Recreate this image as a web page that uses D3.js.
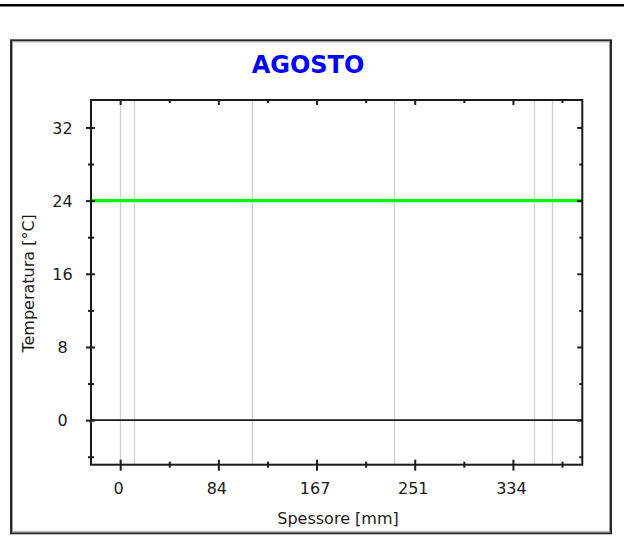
<!DOCTYPE html>
<html>
<head>
<meta charset="utf-8">
<script src="https://cdn.jsdelivr.net/npm/d3@7"></script>
<style>
  html, body { margin: 0; padding: 0; background: #fff; }
  svg { display: block; }
</style>
</head>
<body>
<svg id="chart" width="624" height="540"></svg>
<script>
// Chart text
const title = "AGOSTO";
const xLabel = "Spessore [mm]";
const yLabel = "Temperatura [°C]";

// Axis ticks
const xTickValues = [0, 83.5, 167, 250.5, 334];
const xTickLabels = ["0", "84", "167", "251", "334"];
const xMinorTicks = [41.75, 125.25, 208.75, 292.25, 375.75];
const yTickValues = [0, 8, 16, 24, 32];
const yTickLabels = ["0", "8", "16", "24", "32"];
const yMinorTicks = [-4, 4, 12, 20, 28];

// Axis extents
const xDomain = [-24.8, 393];
const yDomain = [-4.87, 35];

// Wall layer boundaries (mm)
const layerBounds = [0, 12, 112, 233, 352, 367];

// Temperature profile through the wall (mm, °C)
const profileX = [-24.8, 0, 12, 112, 233, 352, 367, 393];
const profileT = [24, 24, 24, 24, 24, 24, 24, 24];

const svg = d3.select("#chart");
const FONT = "'DejaVu Sans', Verdana, sans-serif";
const INK = "#1a1a1a";

// plot box
const P = { left: 91, right: 582.3, top: 100, bottom: 464.7 };

const x = d3.scaleLinear().domain(xDomain).range([P.left, P.right]);
const y = d3.scaleLinear().domain(yDomain).range([P.bottom, P.top]);

// separator rule across the top of the page
svg.append("line")
  .attr("x1", 0).attr("x2", 624).attr("y1", 5.2).attr("y2", 5.2)
  .attr("stroke", "#000").attr("stroke-width", 2.5);

// outer frame with a sunken edge
svg.append("rect")
  .attr("x", 11).attr("y", 40.3).attr("width", 600).attr("height", 493)
  .attr("fill", "#fff").attr("stroke", "#2a2a2a").attr("stroke-width", 2);
svg.append("rect")
  .attr("x", 12.5).attr("y", 41.8).attr("width", 597).attr("height", 490)
  .attr("fill", "none").attr("stroke", "#9a9a9a").attr("stroke-width", 1);

// title
svg.append("text")
  .attr("x", 308).attr("y", 72.5)
  .attr("text-anchor", "middle")
  .attr("font-family", FONT).attr("font-weight", "bold").attr("font-size", 24)
  .attr("fill", "#0000ff")
  .text(title);

const plot = svg.append("g");

// layer boundaries
plot.selectAll("line.layer")
  .data(layerBounds)
  .join("line")
  .attr("class", "layer")
  .attr("x1", d => Math.round(x(d)) + 0.5).attr("x2", d => Math.round(x(d)) + 0.5)
  .attr("y1", P.top).attr("y2", P.bottom)
  .attr("stroke", "#d0d0d0").attr("stroke-width", 1.3);

// zero reference
plot.append("line")
  .attr("x1", P.left).attr("x2", P.right)
  .attr("y1", y(0)).attr("y2", y(0))
  .attr("stroke", INK).attr("stroke-width", 1.7);

// temperature profile
const line = d3.line().x((d, i) => x(profileX[i])).y(d => y(d));
plot.append("path")
  .datum(profileT)
  .attr("d", line)
  .attr("fill", "none")
  .attr("stroke", "#00f500")
  .attr("stroke-width", 3.3);

// frame of the plot
svg.append("rect")
  .attr("x", P.left).attr("y", P.top)
  .attr("width", P.right - P.left).attr("height", P.bottom - P.top)
  .attr("fill", "none").attr("stroke", INK).attr("stroke-width", 2);

function styleAxis(g) {
  g.select(".domain").remove();
  g.selectAll(".tick line").attr("stroke", INK).attr("stroke-width", 2);
}

// bottom axis: major ticks cross the axis line
const gBottom = svg.append("g")
  .attr("transform", `translate(0,${P.bottom})`)
  .call(d3.axisBottom(x).tickValues(xTickValues)
    .tickFormat((d, i) => xTickLabels[i]).tickSizeOuter(0).tickSizeInner(6))
  .call(styleAxis);
gBottom.selectAll(".tick line").attr("y1", -5);
gBottom.selectAll(".tick text")
  .attr("y", 29.3).attr("dy", 0).attr("dx", -2)
  .attr("font-family", FONT).attr("font-size", 16).attr("fill", INK);

const gBottomMinor = svg.append("g")
  .attr("transform", `translate(0,${P.bottom})`)
  .call(d3.axisBottom(x).tickValues(xMinorTicks).tickFormat("").tickSizeOuter(0).tickSizeInner(3))
  .call(styleAxis);
gBottomMinor.selectAll(".tick line").attr("y1", -3);

// top axis: ticks point inward
svg.append("g")
  .attr("transform", `translate(0,${P.top})`)
  .call(d3.axisBottom(x).tickValues(xTickValues).tickFormat("").tickSizeOuter(0).tickSizeInner(5))
  .call(styleAxis);
svg.append("g")
  .attr("transform", `translate(0,${P.top})`)
  .call(d3.axisBottom(x).tickValues(xMinorTicks).tickFormat("").tickSizeOuter(0).tickSizeInner(3))
  .call(styleAxis);

// left axis: ticks cross the axis line
const gLeft = svg.append("g")
  .attr("transform", `translate(${P.left},0)`)
  .call(d3.axisLeft(y).tickValues(yTickValues)
    .tickFormat((d, i) => yTickLabels[i]).tickSizeOuter(0).tickSizeInner(5))
  .call(styleAxis);
gLeft.selectAll(".tick line").attr("x1", 4);
gLeft.selectAll(".tick text")
  .attr("x", -28.5).attr("dy", "0.36em")
  .attr("text-anchor", "middle")
  .attr("font-family", FONT).attr("font-size", 16).attr("fill", INK);

const gLeftMinor = svg.append("g")
  .attr("transform", `translate(${P.left},0)`)
  .call(d3.axisLeft(y).tickValues(yMinorTicks).tickFormat("").tickSizeOuter(0).tickSizeInner(3))
  .call(styleAxis);
gLeftMinor.selectAll(".tick line").attr("x1", 3);

// right axis: ticks point inward
svg.append("g")
  .attr("transform", `translate(${P.right},0)`)
  .call(d3.axisRight(y).tickValues(yTickValues).tickFormat("").tickSizeOuter(0).tickSizeInner(-5))
  .call(styleAxis);
svg.append("g")
  .attr("transform", `translate(${P.right},0)`)
  .call(d3.axisRight(y).tickValues(yMinorTicks).tickFormat("").tickSizeOuter(0).tickSizeInner(-3))
  .call(styleAxis);

// axis titles
svg.append("text")
  .attr("x", 338).attr("y", 523.5)
  .attr("text-anchor", "middle")
  .attr("font-family", FONT).attr("font-size", 16).attr("fill", INK)
  .text(xLabel);

svg.append("text")
  .attr("transform", `translate(34,${(P.top + P.bottom) / 2 + 1}) rotate(-90)`)
  .attr("text-anchor", "middle")
  .attr("font-family", FONT).attr("font-size", 16).attr("fill", INK)
  .text(yLabel);
</script>
</body>
</html>
